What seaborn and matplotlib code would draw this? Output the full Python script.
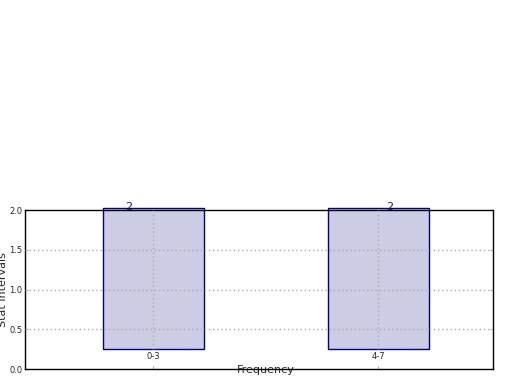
import matplotlib
matplotlib.use("Agg")
import matplotlib.pyplot as plt
import seaborn as sns
import pandas as pd

categories = ["0-3", "4-7"]
values = [2, 2]
y_ticks = [0.0, 0.5, 1.0, 1.5, 2.0]

base = 0.25
label_offsets = [-0.109, 0.053]
sns.set_style("white")
plt.rcParams["font.family"] = ["DejaVu Sans"]

df = pd.DataFrame({"cat": categories, "val": values})
df["h"] = df["val"] - base + 0.02

fig = plt.figure(figsize=(5.2, 3.9), dpi=100)
ax = fig.add_axes([0.048, 0.0538, 0.9, 0.4077])

sns.barplot(data=df, x="cat", y="h", bottom=base, ax=ax, width=0.45,
            color="#ccccE4", saturation=1, edgecolor="#000080",
            linewidth=1.0, clip_on=False, zorder=2)
for p in ax.patches:
    p.set_clip_on(False)

ax.set_xlim(-0.572, 1.511)
ax.set_ylim(0, 2.0)
ax.set_yticks(y_ticks)
ax.set_yticklabels([f"{v:.1f}" for v in y_ticks])

for i, c in enumerate(categories):
    ax.axvline(i, ymin=base / 2.0, ymax=1, color="#aaaaaa", linestyle=(0, (1, 2)),
               linewidth=1.0, zorder=3)
for v in y_ticks[1:-1]:
    ax.axhline(v, color="#aaaaaa", linestyle=(0, (1, 2)), linewidth=1.0, zorder=3)

for i, v in enumerate(values):
    ax.text(i + label_offsets[i], v + 0.04, str(v), ha="center", va="center",
            fontsize=8, color="#1a1a66", zorder=5, clip_on=False)

ax.tick_params(axis="x", direction="in", length=2, color="#aaaaaa", pad=-12,
               labelsize=6, bottom=True)
ax.tick_params(axis="y", direction="in", length=2, color="#aaaaaa", pad=2,
               labelsize=6, left=True, right=True)

ax.set_xlabel("Frequency", fontsize=8, labelpad=-8)
ax.xaxis.set_label_coords(0.514, -0.005, transform=ax.transAxes)
ax.xaxis.label.set_va("center")
ax.set_ylabel("Stat Intervals", fontsize=8)
ax.yaxis.set_label_coords(-0.0475, 0.5, transform=ax.transAxes)
ax.yaxis.label.set_va("center")

for s in ax.spines.values():
    s.set_color("black")
    s.set_linewidth(1.0)
    s.set_visible(True)

fig.savefig("out.png", dpi=100)
